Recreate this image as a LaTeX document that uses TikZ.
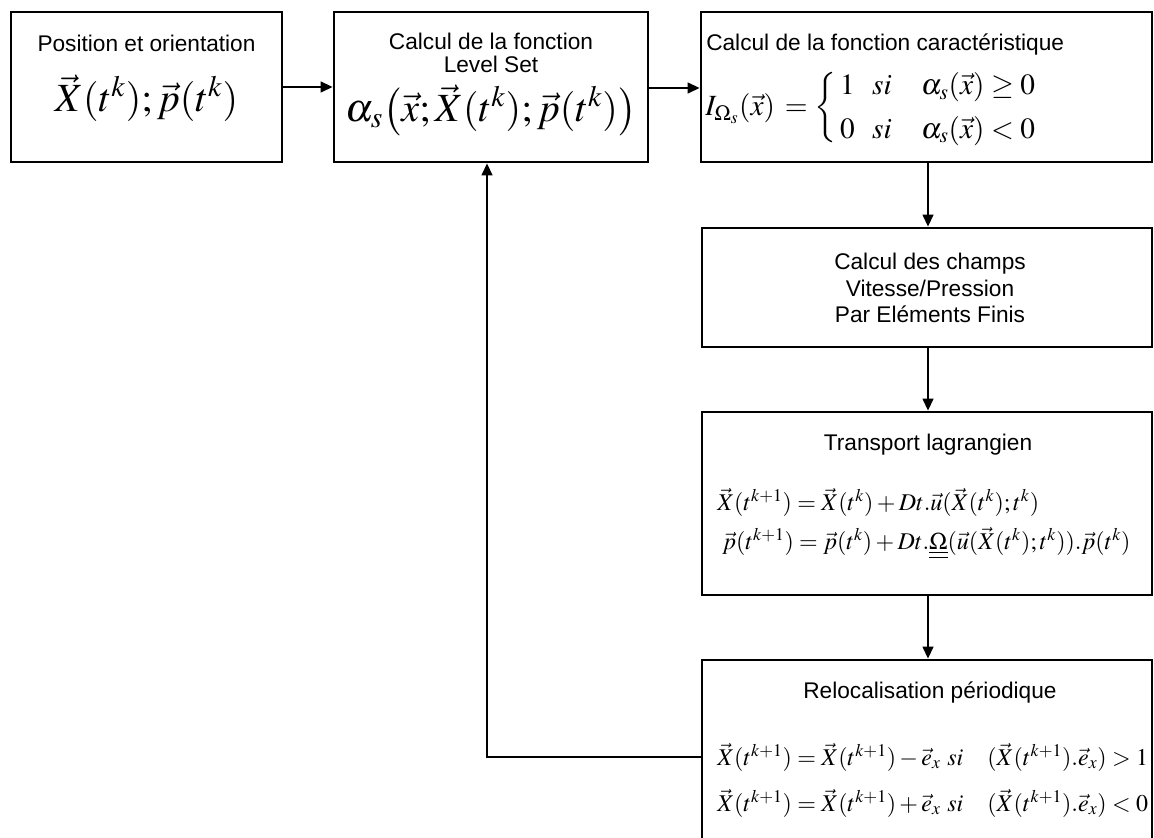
\documentclass[tikz,border=0pt]{standalone}
\usepackage{amsmath}
\usepackage{mathptmx}
\usepackage[no-math]{fontspec}
\setmainfont{Liberation Sans}
\usetikzlibrary{arrows.meta,fit}
\tikzset{
  box/.style={draw, line width=2pt, inner sep=0pt},
  arr/.style={line width=1.6pt, -{Triangle[length=9pt,width=8pt]}},
  ttl/.style={font=\fontsize{17}{20}\selectfont, inner sep=0pt, align=center},
  bigmath/.style={font=\fontsize{30}{36}\selectfont, inner sep=0pt},
  midmath/.style={font=\fontsize{22}{25}\selectfont, inner sep=0pt},
  eqmath/.style={font=\fontsize{18}{22}\selectfont, inner sep=0pt, anchor=west},
}
\begin{document}
\begin{tikzpicture}[x=0.75pt, y=-0.75pt]
\clip (0,0) rectangle (1154,838);
\fill[white] (0,0) rectangle (1154,838);
% boxes
\node[box, fit={(11,12) (282,162)}] (b1) {};
\node[box, fit={(334,12) (648,162)}] (b2) {};
\node[box, fit={(701,12) (1152,162)}] (b3) {};
\node[box, fit={(702,228) (1152,347)}] (b4) {};
\node[box, fit={(702,412) (1152,595)}] (b5) {};
\node[box, fit={(702,660) (1152,900)}] (b6) {};
% texts
\node[ttl] (t1) at (146.5,43) {Position et orientation};
\node[bigmath] (m1) at (146.5,98) {$\vec X(t^k);\vec p(t^k)$};
\node[ttl] (t2a) at (491,41) {Calcul de la fonction};
\node[ttl] (t2b) at (491,64) {Level Set};
\node[bigmath] (m2) at (491,110) {$\alpha_s\bigl(\vec x;\vec X(t^k);\vec p(t^k)\bigr)$};
\node[ttl, anchor=west] (t3) at (706,45) {Calcul de la fonction caractéristique};
\node[midmath, anchor=west] (m3) at (705,108) {\delimiterfactor=800 \delimitershortfall=20pt $I_{\Omega_s}(\vec x)\,=\left\{\renewcommand{\arraystretch}{1.3}\begin{array}{@{\hspace{3pt}}l@{\hspace{13pt}}l@{\hspace{22pt}}l@{}}1 & si & \alpha_s\bigl(\vec x\bigr)\geq 0\\ 0 & si & \alpha_s\bigl(\vec x\bigr)<0\end{array}\right.$};
\node[ttl] (t4) at (930,288) {Calcul des champs\\ Vitesse/Pression\\ Par Eléments Finis};
\node[ttl] (t5) at (928,445) {Transport lagrangien};
\node[eqmath] (e5a) at (717,502) {$\vec X(t^{k+1})=\vec X(t^k)+Dt.\vec u(\vec X(t^k);t^k)$};
\node[eqmath] (e5b) at (722,543) {$\vec p(t^{k+1})=\vec p(t^k)+Dt.\underline{\underline{\Omega}}(\vec u(\vec X(t^k);t^k)).\vec p(t^k)$};
\node[ttl] (t6) at (930,693) {Relocalisation périodique};
\node[eqmath] (e6a) at (717,757) {$\vec X(t^{k+1})=\vec X(t^{k+1})-\vec e_x\ si\quad(\vec X(t^{k+1}).\vec e_x)>1$};
\node[eqmath] (e6b) at (717,803) {$\vec X(t^{k+1})=\vec X(t^{k+1})+\vec e_x\ si\quad(\vec X(t^{k+1}).\vec e_x)<0$};
% connectors
\coordinate (cx) at (928,0);
\coordinate (fb) at (487,757);
\draw[arr] (b1.east |- 0,87) -- (b2.west |- 0,87);
\draw[arr] (b2.east |- 0,88) -- (b3.west |- 0,88);
\draw[arr] (b3.south -| cx) -- (b4.north -| cx);
\draw[arr] (b4.south -| cx) -- (b5.north -| cx);
\draw[arr] (b5.south -| cx) -- (b6.north -| cx);
\draw[arr] (b6.west |- fb) -| (b2.south -| fb);
\end{tikzpicture}
\end{document}
